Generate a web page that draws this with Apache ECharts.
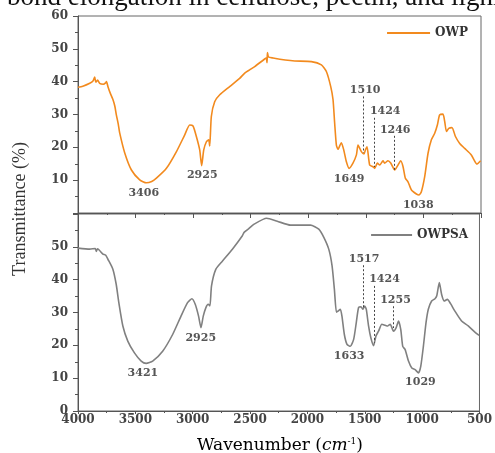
<!DOCTYPE html>
<html>
<head>
<meta charset="utf-8">
<script src="https://cdn.jsdelivr.net/npm/echarts@6/dist/echarts.min.js"></script>
<style>
  html, body { margin: 0; padding: 0; background: #fff; }
  #main { width: 495px; height: 453px; }
</style>
</head>
<body>
<div id="main"></div>
<script>
// OWP spectrum (wavenumber, transmittance)
var owpWave = [4000, 3958, 3898, 3870, 3855, 3845, 3830, 3812, 3780, 3760, 3753, 3739, 3720, 3696, 3680, 3667, 3650, 3638, 3594, 3536, 3464, 3406, 3360, 3319, 3232, 3145, 3073, 3030, 3001, 2972, 2943, 2926, 2908, 2885, 2865, 2856, 2842, 2813, 2769, 2683, 2596, 2552, 2509, 2465, 2379, 2365, 2358, 2355, 2345, 2306, 2200, 2118, 1973, 1886, 1843, 1805, 1785, 1771, 1756, 1742, 1713, 1692, 1669, 1646, 1612, 1582, 1568, 1539, 1516, 1504, 1490, 1467, 1438, 1423, 1400, 1380, 1351, 1337, 1308, 1284, 1249, 1221, 1197, 1177, 1157, 1134, 1104, 1061, 1038, 1018, 989, 960, 931, 902, 879, 859, 830, 815, 800, 780, 752, 722, 685, 642, 584, 535, 503];
var owpT = [38.3, 38.6, 39.5, 40.2, 41.4, 39.8, 40.5, 39.5, 39.2, 39.6, 40.0, 38.4, 36.5, 34.5, 32.5, 29.9, 27.0, 24.4, 18.3, 13.1, 10.1, 9.2, 9.6, 10.6, 13.6, 18.7, 23.8, 26.8, 26.5, 23.3, 19.2, 14.4, 19.2, 21.7, 22.3, 20.4, 29.4, 33.9, 36.0, 38.5, 41.0, 42.6, 43.6, 44.6, 46.9, 47.2, 45.8, 48.9, 47.5, 47.2, 46.6, 46.3, 46.1, 45.1, 43.1, 38.5, 34.5, 27.4, 20.7, 19.4, 21.4, 19.2, 15.6, 13.6, 15.2, 17.7, 20.7, 18.7, 18.0, 19.2, 20.2, 14.6, 14.1, 13.6, 15.2, 14.6, 15.9, 15.2, 15.9, 15.2, 13.1, 14.6, 15.9, 14.1, 10.6, 9.5, 7.0, 5.8, 5.5, 6.5, 11.1, 18.2, 22.3, 24.3, 26.8, 29.9, 30.1, 27.8, 24.8, 25.8, 26.0, 23.3, 21.2, 19.7, 17.7, 14.9, 15.9];

// OWPSA spectrum
var owpsaWave = [4000, 3898, 3850, 3840, 3830, 3783, 3760, 3739, 3696, 3667, 3644, 3609, 3566, 3508, 3449, 3406, 3349, 3262, 3175, 3102, 3045, 3007, 2978, 2949, 2928, 2908, 2885, 2865, 2850, 2836, 2798, 2740, 2654, 2567, 2552, 2509, 2465, 2355, 2263, 2147, 1973, 1901, 1857, 1814, 1785, 1765, 1747, 1733, 1713, 1699, 1678, 1655, 1626, 1597, 1574, 1554, 1533, 1516, 1501, 1487, 1467, 1447, 1423, 1403, 1380, 1351, 1322, 1299, 1278, 1249, 1226, 1206, 1186, 1169, 1148, 1119, 1090, 1061, 1032, 1012, 989, 966, 946, 917, 888, 873, 850, 830, 807, 780, 752, 714, 656, 598, 540, 503];
var owpsaT = [49.6, 49.3, 49.5, 48.6, 49.4, 47.8, 47.5, 46.2, 43.2, 38.6, 33.0, 25.9, 21.3, 17.7, 15.2, 14.5, 15.2, 18.2, 23.3, 28.9, 33.0, 34.2, 32.5, 28.9, 25.4, 28.9, 31.5, 32.5, 32.0, 38.1, 43.2, 45.7, 49.3, 53.4, 54.4, 55.6, 56.9, 58.7, 57.8, 56.6, 56.6, 55.4, 52.9, 49.3, 44.2, 37.1, 30.1, 30.4, 31.0, 28.9, 23.3, 20.3, 19.7, 21.8, 26.9, 31.5, 31.7, 31.0, 32.0, 31.0, 25.9, 22.3, 19.9, 22.8, 24.3, 26.4, 26.1, 25.9, 26.4, 24.3, 25.4, 27.4, 24.8, 19.7, 18.7, 15.2, 13.1, 12.6, 11.6, 13.6, 19.7, 26.9, 31.0, 33.5, 34.2, 35.0, 39.1, 35.5, 33.5, 34.0, 32.7, 30.4, 27.4, 25.9, 24.0, 23.0];

// peak labels: text, wavenumber, transmittance where the text sits
var owpPeakText = ['3406', '2925', '1649', '1510', '1424', '1246', '1038'];
var owpPeakW = [3429, 2921, 1645, 1506, 1332, 1245, 1045];
var owpPeakT = [6.1, 11.6, 10.3, 37.5, 30.9, 25.3, 2.4];
var owpsaPeakText = ['3421', '2925', '1633', '1517', '1424', '1255', '1029'];
var owpsaPeakW = [3434, 2930, 1636, 1506, 1328, 1232, 1015];
var owpsaPeakT = [11.6, 22.3, 16.7, 46.2, 40.1, 33.7, 8.9];

// dashed guide lines: wavenumber, top, bottom
var owpGuideW = [1519, 1429, 1256];
var owpGuideTop = [35.5, 29.0, 23.5];
var owpGuideBot = [18.3, 14.0, 13.1];
var owpsaGuideW = [1516, 1414, 1249];
var owpsaGuideTop = [44.4, 38.1, 31.9];
var owpsaGuideBot = [31.0, 20.8, 25.3];

function pairs(xs, ys) {
  return xs.map(function (x, i) { return [x, ys[i]]; });
}
function peaks(txt, ws, ts) {
  return txt.map(function (t, i) {
    return { coord: [ws[i], ts[i]], value: t };
  });
}
function guides(ws, tops, bots) {
  return ws.map(function (w, i) {
    return [{ coord: [w, tops[i]] }, { coord: [w, bots[i]] }];
  });
}

var tickFont = { fontFamily: 'DejaVu Serif', fontWeight: 'bold', fontSize: 12, color: '#444' };
var axisCol = '#555';

function xAxisCfg(idx, showLabel) {
  return {
    type: 'value', gridIndex: idx, min: 500, max: 4000, interval: 500, inverse: true,
    axisLine: { show: true, lineStyle: { color: axisCol, width: 1 } },
    axisTick: { show: true, inside: false, length: showLabel ? 3 : 5, lineStyle: { color: axisCol } },
    minorTick: { show: true, splitNumber: 2, length: 2, lineStyle: { color: axisCol } },
    splitLine: { show: false },
    axisLabel: Object.assign({
      show: showLabel, margin: 3,
      formatter: function (v) { return String(v); }
    }, tickFont)
  };
}
function yAxisCfg(idx, hide) {
  return {
    type: 'value', gridIndex: idx, min: 0, max: 60, interval: 10,
    axisLine: { show: true, lineStyle: { color: axisCol, width: 1 } },
    axisTick: { show: true, inside: false, length: 5, lineStyle: { color: axisCol } },
    minorTick: { show: true, splitNumber: 2, length: 3, lineStyle: { color: axisCol } },
    splitLine: { show: false },
    axisLabel: Object.assign({
      margin: 10,
      formatter: function (v) { return v === hide ? '' : String(v); }
    }, tickFont)
  };
}

var peakLabel = {
  show: true, position: 'inside', formatter: '{c}',
  fontFamily: 'DejaVu Serif', fontWeight: 'bold', fontSize: 11, color: '#555'
};
var guideStyle = { color: '#444', width: 1, type: [2, 2] };

var chart = echarts.init(document.getElementById('main'));
chart.setOption({
  animation: false,
  backgroundColor: '#fff',
  grid: [
    { left: 78, top: 16, width: 403, height: 197, show: true, borderColor: '#666', borderWidth: 1 },
    { left: 78, top: 214, width: 403, height: 197, show: true, borderColor: '#666', borderWidth: 1 }
  ],
  xAxis: [xAxisCfg(0, false), xAxisCfg(1, true)],
  yAxis: [yAxisCfg(0, 0), yAxisCfg(1, 60)],
  legend: [
    {
      data: ['OWP'], right: 22, top: 22, icon: 'rect', itemWidth: 43, itemHeight: 2,
      textStyle: { fontFamily: 'DejaVu Serif', fontWeight: 'bold', fontSize: 12, color: '#333' }
    },
    {
      data: ['OWPSA'], right: 22, top: 224, icon: 'rect', itemWidth: 41, itemHeight: 2,
      textStyle: { fontFamily: 'DejaVu Serif', fontWeight: 'bold', fontSize: 12, color: '#333' }
    }
  ],
  graphic: [
    {
      type: 'text', left: 7, top: -16,
      style: { text: 'bond elongation in cellulose, pectin, and lignin', font: '27px "Liberation Serif"', fill: '#111' }
    },
    {
      type: 'text', x: 20, y: 209, rotation: Math.PI / 2,
      style: { text: 'Transmittance (%)', font: '18px "Liberation Serif"', fill: '#333', align: 'center', verticalAlign: 'middle' }
    },
    {
      type: 'text', x: 280, y: 446,
      style: {
        text: '{n|Wavenumber (}{i|cm}{s|-1}{n|)}',
        align: 'center', verticalAlign: 'middle',
        rich: {
          n: { fontFamily: 'DejaVu Serif', fontSize: 17, color: '#333' },
          i: { fontFamily: 'DejaVu Serif', fontStyle: 'italic', fontSize: 17, color: '#333' },
          s: { fontFamily: 'DejaVu Serif', fontSize: 9, color: '#333', verticalAlign: 'top', padding: [0, 0, 8, 0] }
        }
      }
    }
  ],
  series: [
    {
      name: 'OWP', type: 'line', xAxisIndex: 0, yAxisIndex: 0,
      data: pairs(owpWave, owpT), symbol: 'none', smooth: 0.2,
      lineStyle: { color: '#F28A1E', width: 1.6 }, itemStyle: { color: '#F28A1E' },
      markPoint: { symbol: 'circle', symbolSize: 0, silent: true, label: peakLabel, data: peaks(owpPeakText, owpPeakW, owpPeakT) },
      markLine: { symbol: 'none', silent: true, label: { show: false }, lineStyle: guideStyle, data: guides(owpGuideW, owpGuideTop, owpGuideBot) }
    },
    {
      name: 'OWPSA', type: 'line', xAxisIndex: 1, yAxisIndex: 1,
      data: pairs(owpsaWave, owpsaT), symbol: 'none', smooth: 0.2,
      lineStyle: { color: '#808080', width: 1.6 }, itemStyle: { color: '#808080' },
      markPoint: { symbol: 'circle', symbolSize: 0, silent: true, label: peakLabel, data: peaks(owpsaPeakText, owpsaPeakW, owpsaPeakT) },
      markLine: { symbol: 'none', silent: true, label: { show: false }, lineStyle: guideStyle, data: guides(owpsaGuideW, owpsaGuideTop, owpsaGuideBot) }
    }
  ]
});
</script>
</body>
</html>
